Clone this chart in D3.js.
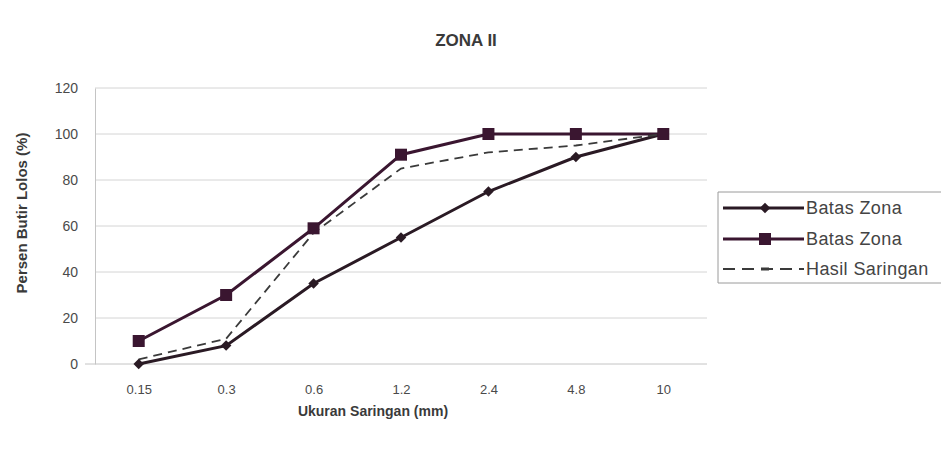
<!DOCTYPE html>
<html>
<head>
<meta charset="utf-8">
<script src="https://cdn.jsdelivr.net/npm/d3@7"></script>
<style>
  body { margin:0; background:#fff; }
  text { font-family: "Liberation Sans", Arial, sans-serif; }
</style>
</head>
<body>
<script>
// data
var sieves = ["0.15","0.3","0.6","1.2","2.4","4.8","10"];
var batasBawah = [0, 8, 35, 55, 75, 90, 100];
var batasAtas = [10, 30, 59, 91, 100, 100, 100];
var hasilSaringan = [2, 11, 57, 85, 92, 95, 100];
var yTicks = [0, 20, 40, 60, 80, 100, 120];

var W = 941, H = 464;

var svg = d3.select("body").append("svg")
    .attr("width", W)
    .attr("height", H);

var x = d3.scalePoint().domain(sieves).range([95, 707]).padding(0.5);
var y = d3.scaleLinear().domain([0, 120]).range([364, 88]);

// gridlines
var grid = svg.append("g").attr("class","grid");
grid.selectAll("line")
    .data(yTicks.filter(function(d){ return d > 0; }))
    .enter().append("line")
    .attr("x1", 95).attr("x2", 707)
    .attr("y1", function(d){ return y(d); })
    .attr("y2", function(d){ return y(d); })
    .attr("stroke", "#d4d4d4")
    .attr("stroke-width", 1);

// y axis
var yAxis = svg.append("g")
    .attr("transform", "translate(95,0)")
    .call(d3.axisLeft(y).tickValues(yTicks).tickSize(0).tickPadding(17));
yAxis.select(".domain").attr("stroke", "#c4c4c4");
yAxis.selectAll("text").attr("font-size", 14).attr("fill", "#4a4a4a");

// x axis
var xAxis = svg.append("g")
    .attr("transform", "translate(0," + y(0) + ")")
    .call(d3.axisBottom(x).tickSize(0).tickPadding(21));
xAxis.select(".domain").attr("stroke", "#c4c4c4").attr("d", "M85,0H707");
xAxis.selectAll("text").attr("font-size", 13).attr("fill", "#4a4a4a");

// titles
svg.append("text")
    .attr("x", 466).attr("y", 46)
    .attr("text-anchor", "middle")
    .attr("font-size", 17).attr("font-weight", "bold")
    .attr("fill", "#3a3a3a")
    .text("ZONA II");

svg.append("text")
    .attr("x", 373).attr("y", 416)
    .attr("text-anchor", "middle")
    .attr("font-size", 14).attr("font-weight", "bold")
    .attr("fill", "#3a3a3a")
    .text("Ukuran Saringan (mm)");

svg.append("text")
    .attr("transform", "translate(27,213) rotate(-90)")
    .attr("text-anchor", "middle")
    .attr("font-size", 15).attr("font-weight", "bold")
    .attr("fill", "#3a3a3a")
    .text("Persen Butir Lolos (%)");

// lines
var line = d3.line()
    .x(function(d, i){ return x(sieves[i]); })
    .y(function(d){ return y(d); });

var series = [
  { name: "Batas Zona", values: batasBawah, color: "#2a1a24", width: 3, dash: null, marker: "diamond" },
  { name: "Batas Zona", values: batasAtas, color: "#3a1630", width: 3, dash: null, marker: "square" },
  { name: "Hasil Saringan", values: hasilSaringan, color: "#3a3a3a", width: 1.8, dash: "9,6", marker: "dash" }
];

var plot = svg.append("g").attr("class", "plot");

series.forEach(function(s){
  plot.append("path")
      .datum(s.values)
      .attr("d", line)
      .attr("fill", "none")
      .attr("stroke", s.color)
      .attr("stroke-width", s.width)
      .attr("stroke-dasharray", s.dash);
});

function drawMarker(g, s, cx, cy){
  if (s.marker == "diamond") {
    g.append("path")
      .attr("d", d3.symbol().type(d3.symbolDiamond2).size(70)())
      .attr("transform", "translate(" + cx + "," + cy + ")")
      .attr("fill", s.color);
  } else if (s.marker == "square") {
    g.append("rect")
      .attr("x", cx - 6).attr("y", cy - 6)
      .attr("width", 12).attr("height", 12)
      .attr("fill", s.color);
  } else {
    g.append("rect")
      .attr("x", cx - 4).attr("y", cy - 1.5)
      .attr("width", 8).attr("height", 3)
      .attr("fill", s.color);
  }
}

series.forEach(function(s){
  if (s.marker == "dash") return;
  s.values.forEach(function(v, i){
    drawMarker(plot, s, x(sieves[i]), y(v));
  });
});

// legend
var legend = svg.append("g").attr("class", "legend");
legend.append("path")
    .attr("d", "M941,192H718V283H941")
    .attr("fill", "#fff")
    .attr("stroke", "#9a9a9a")
    .attr("stroke-width", 1);

var legendY = [208, 239, 269];
series.forEach(function(s, i){
  var ly = legendY[i];
  legend.append("line")
      .attr("x1", 723).attr("x2", 804)
      .attr("y1", ly).attr("y2", ly)
      .attr("stroke", s.color)
      .attr("stroke-width", s.width)
      .attr("stroke-dasharray", s.dash ? "12,7" : null);
  drawMarker(legend, s, 765, ly);
  legend.append("text")
      .attr("x", 806).attr("y", ly + 6)
      .attr("font-size", 18)
      .attr("letter-spacing", 0.4)
      .attr("fill", "#444")
      .text(s.name);
});
</script>
</body>
</html>
